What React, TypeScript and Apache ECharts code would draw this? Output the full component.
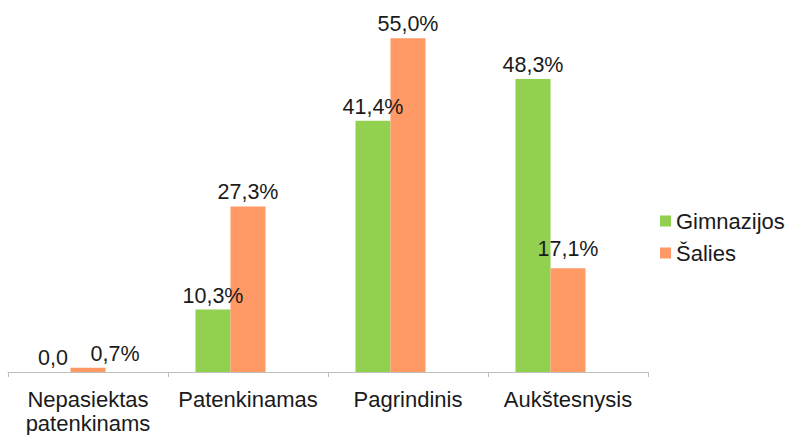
import React, { useEffect, useRef } from "react";
import * as echarts from "echarts";

const categories = ["Nepasiektas\npatenkinams", "Patenkinamas", "Pagrindinis", "Aukštesnysis"];
const gimnazijosValues = [0.0, 10.3, 41.4, 48.3];
const saliesValues = [0.7, 27.3, 55.0, 17.1];
const gimnazijosLabels = ["0,0", "10,3%", "41,4%", "48,3%"];
const saliesLabels = ["0,7%", "27,3%", "55,0%", "17,1%"];
const seriesNames = ["Gimnazijos", "Šalies"];

const GREEN = "#92d050";
const ORANGE = "#ff9966";
const FONT = "Liberation Sans, Arial, sans-serif";

export default function App() {
  const ref = useRef<HTMLDivElement>(null);
  useEffect(() => {
    if (!ref.current) return;
    const chart = echarts.init(ref.current, undefined, { renderer: "svg" });
    const labelBase = {
      show: true,
      position: "top",
      distance: 3,
      color: "#1a1a1a",
      fontSize: 21.5,
      fontFamily: FONT,
    };
    chart.setOption({
      animation: false,
      textStyle: { fontFamily: FONT },
      grid: { left: 8, right: 138, top: 8, bottom: 63, containLabel: false },
      legend: {
        data: seriesNames,
        orient: "vertical",
        left: 655,
        top: 205,
        itemWidth: 11,
        itemHeight: 11,
        itemGap: 10,
        icon: "rect",
        textStyle: { fontSize: 22, color: "#1a1a1a", fontFamily: FONT },
      },
      xAxis: {
        type: "category",
        data: categories,
        axisLine: { show: true, lineStyle: { color: "#bfbfbf", width: 1 } },
        axisTick: { show: true, length: 5, lineStyle: { color: "#bfbfbf" } },
        axisLabel: {
          fontSize: 22,
          color: "#1a1a1a",
          fontFamily: FONT,
          margin: 15,
          lineHeight: 24,
          interval: 0,
        },
      },
      yAxis: {
        type: "value",
        min: 0,
        max: 60,
        show: false,
        splitLine: { show: false },
      },
      series: [
        {
          name: seriesNames[0],
          type: "bar",
          barWidth: 35,
          barGap: "0%",
          itemStyle: { color: GREEN },
          data: gimnazijosValues.map((v, i) => ({
            value: v,
            label: { ...labelBase, formatter: gimnazijosLabels[i] },
          })),
        },
        {
          name: seriesNames[1],
          type: "bar",
          barWidth: 35,
          barGap: "0%",
          itemStyle: { color: ORANGE },
          data: saliesValues.map((v, i) => ({
            value: v,
            label: {
              ...labelBase,
              formatter: saliesLabels[i],
              offset: i === 0 ? [27, 0] : i === 3 ? [0, -5] : [0, 0],
            },
          })),
        },
        {
          name: "",
          type: "bar",
          barWidth: 35,
          barGap: "0%",
          data: categories.map(() => null),
        },
      ],
    });
    return () => chart.dispose();
  }, []);
  return <div ref={ref} style={{ width: 786, height: 435, position: "absolute", left: 0, top: 0 }} />;
}
